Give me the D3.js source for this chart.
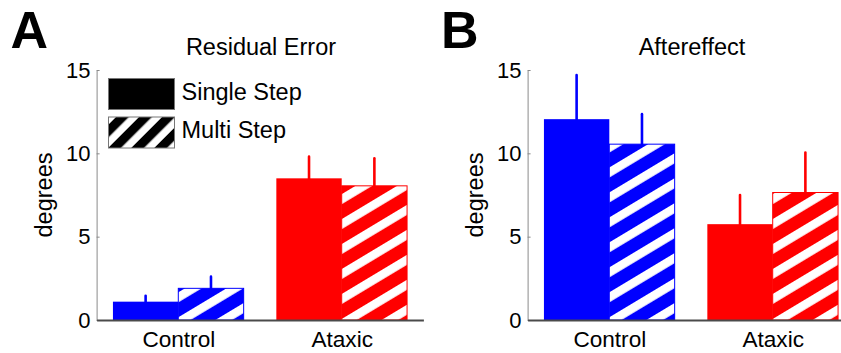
<!DOCTYPE html>
<html>
<head>
<meta charset="utf-8">
<script src="https://cdn.jsdelivr.net/npm/d3@7"></script>
<style>
  html, body { margin: 0; padding: 0; background: #fff; }
  svg { display: block; font-family: "Liberation Sans", Arial, Helvetica, sans-serif; }
</style>
</head>
<body>
<svg id="chart" width="841" height="353"></svg>
<script>
// Group labels on the x axis
const categories = ["Control", "Ataxic"];
const yTicks = [0, 5, 10, 15];

// Residual error (degrees), mean and upper error
const residualSingle = [1.1, 8.5];
const residualSingleErr = [0.35, 1.3];
const residualMulti = [1.9, 8.05];
const residualMultiErr = [0.7, 1.65];

// Aftereffect (degrees), mean and upper error
const aftereffectSingle = [12.05, 5.75];
const aftereffectSingleErr = [2.65, 1.75];
const aftereffectMulti = [10.55, 7.65];
const aftereffectMultiErr = [1.8, 2.4];

const groupColors = ["#0000ff", "#ff0000"];
const legendLabels = ["Single Step", "Multi Step"];

const svg = d3.select("#chart");
const defs = svg.append("defs");

// Diagonal stripe fill: coloured background with white bands rising to the right
function stripePattern(id, bg, band, period, bandWidth, angle) {
  const p = defs.append("pattern")
    .attr("id", id)
    .attr("patternUnits", "userSpaceOnUse")
    .attr("width", 60)
    .attr("height", period)
    .attr("patternTransform", `rotate(${-angle})`);
  p.append("rect").attr("width", 60).attr("height", period).attr("fill", bg);
  p.append("rect").attr("width", 60).attr("height", bandWidth).attr("fill", band);
}
groupColors.forEach((c, i) => stripePattern("hatch" + i, c, "#fff", 21.4, 8.6, 31));
stripePattern("hatchLegend", "#fff", "#000", 16.3, 9, 45);

const yTop = 70, yBottom = 320;

function drawPanel(opts) {
  const g = svg.append("g").attr("transform", `translate(${opts.dx},0)`);
  const x = d3.scaleLinear().domain([0.5, 2.5]).range([96.6, 423.4]);
  const y = d3.scaleLinear().domain([0, 15]).range([yBottom, yTop]);
  const half = 0.4;

  // error bars sit behind the bars, so only the upper whisker shows
  const series = [
    { vals: opts.single, errs: opts.singleErr, off: -half / 2, hatched: false },
    { vals: opts.multi, errs: opts.multiErr, off: half / 2, hatched: true }
  ];
  series.forEach(s => {
    g.selectAll(null).data(categories).enter().append("line")
      .attr("x1", (d, i) => x(i + 1 + s.off))
      .attr("x2", (d, i) => x(i + 1 + s.off))
      .attr("y1", (d, i) => y(s.vals[i]))
      .attr("y2", (d, i) => y(s.vals[i] + s.errs[i]))
      .attr("stroke", (d, i) => groupColors[i])
      .attr("stroke-width", 2.6)
      .attr("stroke-linecap", "round");
  });
  series.forEach(s => {
    g.selectAll(null).data(categories).enter().append("rect")
      .attr("x", (d, i) => x(i + 1 + s.off - half / 2))
      .attr("width", (d, i) => x(i + 1 + s.off + half / 2) - x(i + 1 + s.off - half / 2))
      .attr("y", (d, i) => y(s.vals[i]))
      .attr("height", (d, i) => y(0) - y(s.vals[i]))
      .attr("fill", (d, i) => s.hatched ? `url(#hatch${i})` : groupColors[i])
      .attr("stroke", (d, i) => s.hatched ? groupColors[i] : "none")
      .attr("stroke-width", 1);
  });

  // y axis: thin grey spine with inward ticks
  const yAxis = g.append("g")
    .attr("transform", `translate(${x(0.5)},0)`)
    .call(d3.axisLeft(y).tickValues(yTicks).tickSizeInner(-3).tickSizeOuter(0).tickPadding(6));
  yAxis.select(".domain").attr("stroke", "#8a8a8a").attr("stroke-width", 1);
  yAxis.selectAll(".tick line").attr("stroke", "#8a8a8a");
  yAxis.selectAll(".tick text").attr("font-size", 22).attr("fill", "#000")
    .attr("font-family", "Liberation Sans, Arial, sans-serif");

  // x axis: dark baseline, group labels under each pair
  const xAxis = g.append("g")
    .attr("transform", `translate(0,${y(0)})`)
    .call(d3.axisBottom(x).tickValues([1, 2]).tickFormat((d) => categories[d - 1])
      .tickSizeInner(0).tickSizeOuter(0).tickPadding(11));
  xAxis.select(".domain").attr("stroke", "#4a4a4a").attr("stroke-width", 2);
  xAxis.selectAll(".tick text").attr("font-size", 22.6).attr("fill", "#000")
    .attr("font-family", "Liberation Sans, Arial, sans-serif");

  // y label
  g.append("text")
    .attr("transform", `translate(51.5,${(yTop + yBottom) / 2}) rotate(-90)`)
    .attr("text-anchor", "middle")
    .attr("font-size", 23.5)
    .text("degrees");

  // title
  g.append("text")
    .attr("x", (x(0.5) + x(2.5)) / 2 + 1)
    .attr("y", 55)
    .attr("text-anchor", "middle")
    .attr("font-size", 23.5)
    .text(opts.title);

  // panel letter
  g.append("text")
    .attr("x", opts.letterX)
    .attr("y", 47.7)
    .attr("font-size", 52)
    .attr("font-weight", "bold")
    .text(opts.letter);

  return g;
}

const gA = drawPanel({
  dx: 0, title: "Residual Error", letter: "A", letterX: 10.5,
  single: residualSingle, singleErr: residualSingleErr,
  multi: residualMulti, multiErr: residualMultiErr
});
drawPanel({
  dx: 431, title: "Aftereffect", letter: "B", letterX: 10,
  single: aftereffectSingle, singleErr: aftereffectSingleErr,
  multi: aftereffectMulti, multiErr: aftereffectMultiErr
});

// legend in panel A
const legend = gA.append("g").attr("transform", "translate(108.5,78.5)");
legendLabels.forEach((label, i) => {
  legend.append("rect")
    .attr("x", 0).attr("y", i * 38.5)
    .attr("width", 66).attr("height", 31)
    .attr("fill", i === 0 ? "#000" : "url(#hatchLegend)")
    .attr("stroke", "#777").attr("stroke-width", 1);
  legend.append("text")
    .attr("x", 73).attr("y", 21.5 + i * 38.3)
    .attr("font-size", 23.5)
    .text(label);
});
</script>
</body>
</html>
